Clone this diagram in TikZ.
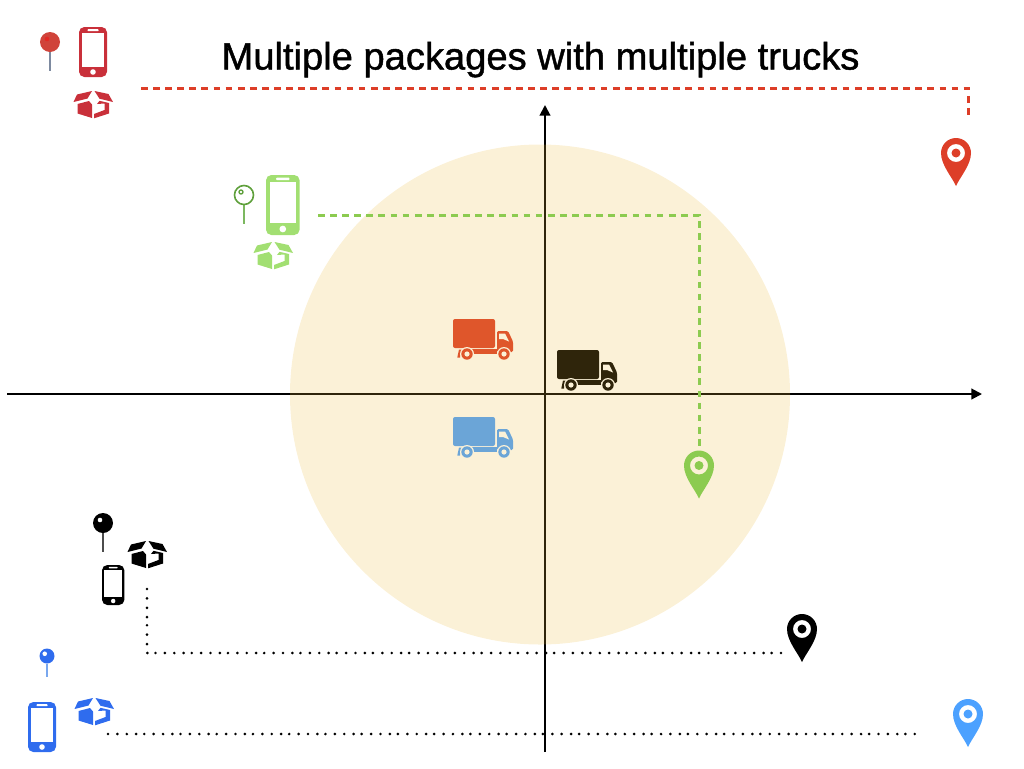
\documentclass[tikz,border=0pt]{standalone}
\usepackage{fontspec}
\setmainfont{Liberation Sans}
\newfontfamily\headfont[FakeBold=1.2]{Liberation Sans}
\usetikzlibrary{arrows.meta}
\definecolor{redmark}{HTML}{DD3E28}
\definecolor{greenmark}{HTML}{8CCB50}
\definecolor{bluemark}{HTML}{4CA1FF}
\definecolor{redicon}{HTML}{C9303A}
\definecolor{greenicon}{HTML}{A2DF72}
\definecolor{blueicon}{HTML}{2F6CEE}
\definecolor{redpin}{HTML}{D0433A}
\definecolor{redstem}{HTML}{7D8AA0}
\definecolor{greenpin}{HTML}{5FA03C}
\definecolor{greenstem}{HTML}{7CB860}
\definecolor{bluestem}{HTML}{79A7EE}
\definecolor{zonefill}{HTML}{EBB937}
\tikzset{
    axis/.style={line width=1.5pt, -{Triangle[length=8pt, width=8pt]}},
    dashedroute/.style={line width=2.25pt, dash pattern=on 5.02bp off 4.02bp},
    dottedroute/.style={line width=2.2pt, line cap=round,
        dash pattern=on 0pt off 7.02bp on 0pt off 7.02bp on 0pt off 7.02bp on 0pt off 6.02bp},
    title/.style={font=\headfont\fontsize{28.6}{32}\selectfont, inner sep=0pt, anchor=base},
    pics/phone/.style={code={
        \fill[#1, rounded corners=4pt] (0,0) rectangle (28,50);
        \fill[white] (3,6) rectangle (25,40);
        \fill[white, rounded corners=0.5pt] (8.5,2.2) rectangle (19.5,4.2);
        \fill[white] (14,45) circle[radius=2.8];
    }},
    pics/parcel/.style={code={
        \fill[#1] (0,11) -- (3.5,3.5) -- (18.5,0) -- (14,7.5) -- cycle;
        \fill[#1] (21,0) -- (35,3) -- (39.5,11) -- (26,7.7) -- cycle;
        \fill[#1] (4,13) -- (15.5,10) -- (18.5,13.5) -- (18.5,27) -- (4,22.5) -- cycle;
        \fill[#1] (20.5,27.3) -- (35.5,22.5) -- (35.5,12) -- (26,9.8) -- (23.5,13)
            -- (31,12.5) -- (31,19) -- (20.5,23) -- cycle;
    }},
    pics/pin/.style n args={5}{code={
        \draw[#2, line width=1.5pt] (0,#3) -- (0,#5);
        \fill[#1] (0,0) circle[radius=#3];
        \fill[#4] (-0.3*#3,-0.3*#3) circle[radius=2.3];
    }},
    pics/ringpin/.style n args={2}{code={
        \draw[#2, line width=1.4pt] (0,10) -- (0,29);
        \draw[#1, line width=1.2pt] (0,0) circle[radius=9.5];
        \draw[#1, line width=1pt] (-3,-3) circle[radius=2];
    }},
    pics/marker/.style={code={
        \fill[#1, even odd rule] (0,33) .. controls (-4,24) and (-15,12) .. (-15,0)
            arc[start angle=180, end angle=360, radius=15]
            .. controls (15,12) and (4,24) .. (0,33) -- cycle
            (0,0) circle[radius=9] (0,0) circle[radius=4.5];
    }},
    pics/truck/.style={code={
        \fill[#1, rounded corners=1.5pt] (0,0) -- (42,0) -- (42,29) -- (0,29) -- cycle;
        \fill[#1, rounded corners=1pt] (44,12) -- (55,12) -- (60,22.5) -- (60,33) -- (44,33) -- cycle;
        \fill[#1] (19,30) rectangle (44,35);
        \fill[#1] (6,30.5) -- (8.7,30.5) -- (7,38.5) -- (4.3,38.5) -- cycle;
        \fill[white] (46,14.5) -- (52,14.5) -- (56,22.5) -- (50,20) -- (46,20) -- cycle;
        \foreach \wheelx in {14,51} {
            \fill[white] (\wheelx,35) circle[radius=7];
            \fill[#1] (\wheelx,35) circle[radius=5.7];
            \fill[white] (\wheelx,35) circle[radius=2.6];
        }
    }}
}
\begin{document}
\begin{tikzpicture}[x=0.75pt, y=-0.75pt]
    \useasboundingbox (0,0) rectangle (1024,768);

    % Axes
    \coordinate (west) at (7,394);
    \coordinate (east) at (982,394);
    \coordinate (south) at (545,752);
    \coordinate (north) at (545,105);
    \draw[axis] (west) -- (east);
    \draw[axis] (south) -- (north);

    % Trucks
    \pic (orangetruck) at (453,319) {truck=redmark};
    \pic (darktruck) at (557,350) {truck=black};
    \pic (bluetruck) at (453,417) {truck=bluemark};

    % Zone
    \fill[zonefill, opacity=0.2] (540,394.5) circle[radius=250];

    % Title
    \node[title] (headline) at (540.5,69.5) {Multiple packages with multiple trucks};

    % Red group (top left)
    \pic (redpinhead) at (50,42) {pin={redpin}{redstem}{10}{red!40!redpin}{29}};
    \pic (redphone) at (79,27) {phone=redicon};
    \pic (redparcel) at (73.5,91) {parcel=redicon};
    \pic (redmarker) at (956,153) {marker=redmark};

    % Green group
    \pic (greenpinhead) at (244,195) {ringpin={greenpin}{greenstem}};
    \pic[scale=1.2] (greenphone) at (266,175) {phone=greenicon};
    \pic (greenparcel) at (253.5,242) {parcel=greenicon};
    \pic (greenmarker) at (699,465.5) {marker=greenmark};

    % Black group
    \pic (blackpinhead) at (103,523) {pin={black}{black!70}{10}{white}{29}};
    \pic[scale=0.8] (blackphone) at (102,565) {phone=black};
    \pic (blackparcel) at (127.5,541) {parcel=black};
    \pic (blackmarker) at (802,629) {marker=black};

    % Blue group (bottom left)
    \pic (bluepinhead) at (47,656) {pin={blueicon}{bluestem}{7.5}{white}{21}};
    \pic (bluephone) at (28,702) {phone=blueicon};
    \pic (blueparcel) at (74.5,698) {parcel=blueicon};
    \pic (bluemarker) at (968,714) {marker=bluemark};

    % Routes
    \coordinate (redstart) at (141,88);
    \coordinate (redbend) at (968,88);
    \coordinate (redend) at (968,117);
    \coordinate (greenstart) at (318,215);
    \coordinate (greenbend) at (699,215);
    \coordinate (greenend) at (699,447);
    \coordinate (blackstart) at (147,589);
    \coordinate (blackbend) at (147,653);
    \coordinate (blackend) at (783,653);
    \coordinate (bluestart) at (108,734);
    \coordinate (blueend) at (920,734);
    \draw[dashedroute, redmark] (redstart) -- (redbend) -- (redend);
    \draw[dashedroute, greenmark] (greenstart) -- (greenbend) -- (greenend);
    \draw[dottedroute] (blackstart) -- (blackbend) -- (blackend);
    \draw[dottedroute] (bluestart) -- (blueend);
\end{tikzpicture}
\end{document}
